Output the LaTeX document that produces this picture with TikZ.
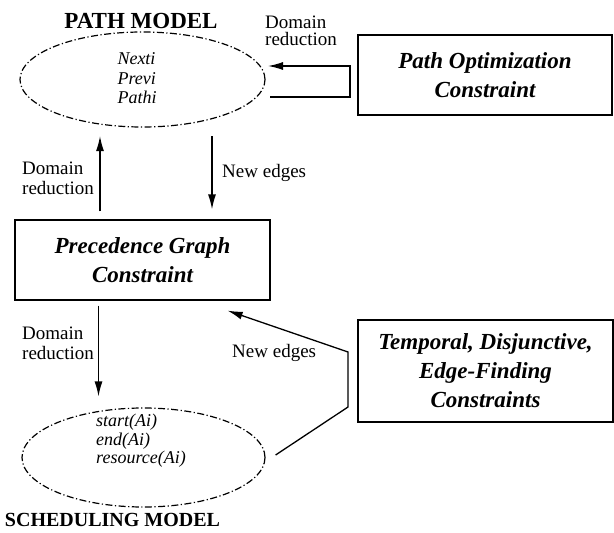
\documentclass[tikz,border=0pt]{standalone}
\usepackage{fontspec}
\setmainfont{Liberation Serif}
\usetikzlibrary{arrows.meta,shapes.geometric}
\begin{document}
\begin{tikzpicture}[x=1pt,y=-1pt,
  box/.style={draw,line width=1.3pt,rectangle,inner sep=0pt,
    font=\fontsize{23}{29}\selectfont\bfseries\itshape,align=center},
  model/.style={draw,ellipse,line width=1.2pt,
    dash pattern=on 7pt off 2.5pt on 1.2pt off 2.5pt,inner sep=0pt},
  heading/.style={font=\fontsize{21}{24}\selectfont\bfseries},
  lbl/.style={font=\fontsize{19}{20}\selectfont,align=left,inner sep=0pt},
  lblone/.style={font=\fontsize{19}{20}\selectfont,inner sep=0pt},
  vars/.style={font=\fontsize{18}{19.5}\selectfont\itshape,align=left,inner sep=0pt},
  arr/.style={line width=1.3pt,-{Latex[length=15pt,width=8pt]}},
  conn/.style={line width=1.3pt}]
\useasboundingbox (0,0) rectangle (614,533);

% path model
\node[model,minimum width=245pt,minimum height=95pt] (pm) at (142.5,79.5) {};
\node[vars] (pmv) at (137,78.5) {Nexti\\Previ\\Pathi};
\node[heading,font=\fontsize{23}{26}\selectfont\bfseries] (pmt) at (141,20.5) {PATH MODEL};

% constraint boxes
\node[box,minimum width=254pt,minimum height=80pt] (po) at (485,75) {Path Optimization\\Constraint};
\node[box,minimum width=255pt,minimum height=80pt] (pg) at (142.5,260) {Precedence Graph\\Constraint};
\node[box,minimum width=255pt,minimum height=102pt] (tc) at (485.5,371) {Temporal, Disjunctive,\\Edge-Finding\\Constraints};

% scheduling model
\node[model,minimum width=243pt,minimum height=99pt] (sm) at (143.5,457.5) {};
\node[vars,font=\fontsize{18}{18.5}\selectfont\itshape] (smv) at (141,441) {start(Ai)\\end(Ai)\\resource(Ai)};
\node[heading,font=\fontsize{20}{24}\selectfont\bfseries] (smt) at (112.5,520) {SCHEDULING MODEL};

% path optimization feeds back into the path model
\coordinate (poOut) at (270,97);
\coordinate (poTurn) at (350,97);
\coordinate (poIn) at (268,66);
\draw[arr] (poOut) -- (poTurn) |- (poIn);
\node[lbl,font=\fontsize{19}{17.5}\selectfont,anchor=west] (lr1) at (265,31) {Domain\\reduction};

% path model <-> precedence graph
\draw[arr] ([xshift=-42.5pt,yshift=8pt]pg.north) -- ([xshift=-42.5pt,yshift=-8.5pt]pm.south);
\draw[arr] ([xshift=69.5pt,yshift=-8.5pt]pm.south) -- ([xshift=69.5pt,yshift=10pt]pg.north);
\node[lbl,anchor=west] (lr2) at (22,178) {Domain\\reduction};
\node[lblone,anchor=base west] (le1) at (222,177) {New edges};

% precedence graph -> scheduling model
\draw[arr] ([xshift=-44pt,yshift=-5pt]pg.south) -- ([xshift=-45pt,yshift=11pt]sm.north);
\node[lbl,anchor=west] (lr3) at (22,343.5) {Domain\\reduction};

% scheduling model -> precedence graph
\coordinate (tcA) at (348,407);
\coordinate (tcB) at (348,352);
\draw[arr] ([xshift=10pt,yshift=2.5pt]sm.east) -- (tcA) -- (tcB) -- ([xshift=-43pt,yshift=-10pt]pg.south east);
\node[lblone,anchor=base west] (le2) at (232,357) {New edges};
\end{tikzpicture}
\end{document}
